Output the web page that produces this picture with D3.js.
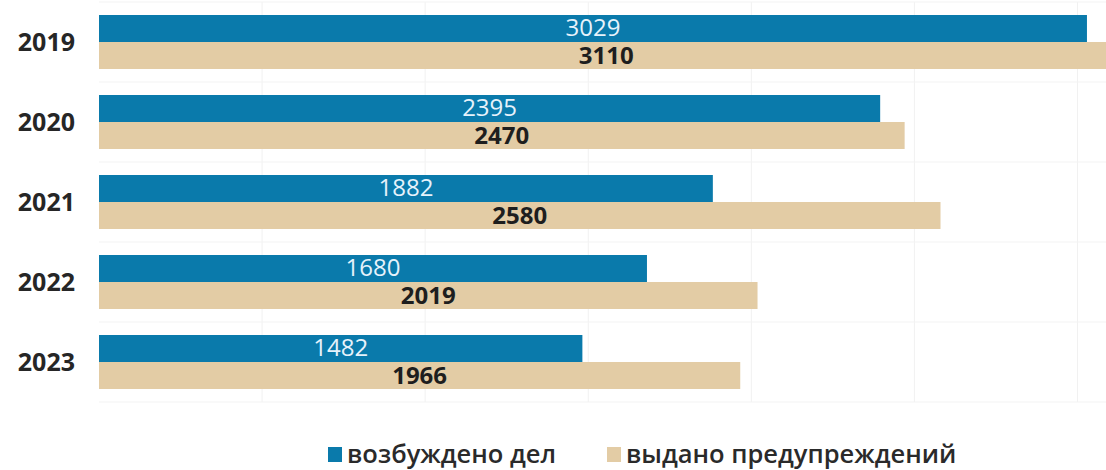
<!DOCTYPE html>
<html>
<head>
<meta charset="utf-8">
<script src="https://cdn.jsdelivr.net/npm/d3@7"></script>
<style>
html,body{margin:0;padding:0;background:#fff;}
svg{display:block;}
text{font-family:"Open Sans",sans-serif;}
</style>
</head>
<body>
<svg id="chart" width="1106" height="470"></svg>
<script>
const years = ["2019","2020","2021","2022","2023"];
const cases = [3029, 2395, 1882, 1680, 1482];
const warnings = [3110, 2470, 2580, 2019, 1966];
const seriesNames = ["возбуждено дел", "выдано предупреждений"];
const gridTicks = [0, 500, 1000, 1500, 2000, 2500, 3000];

const colors = {cases: "#0a7aab", warnings: "#e3cca5"};

const rows = years.map((y, i) => ({year: y, values: [cases[i], warnings[i]]}));

const svg = d3.select("#chart");
const x = d3.scaleLinear().domain([0, 3000]).range([99, 1077.5]);
const y = d3.scaleBand().domain(years).range([2, 402]).paddingInner(0.325).paddingOuter(0.1625);
const sub = d3.scaleBand().domain([0, 1]).range([0, y.bandwidth()]);

// faint grid
const grid = svg.append("g");
grid.selectAll("line.v").data(gridTicks.slice(1)).join("line")
  .attr("x1", d => x(d)).attr("x2", d => x(d))
  .attr("y1", 2).attr("y2", 402)
  .attr("stroke", "#f1f1f1").attr("stroke-width", 1);
const hLines = years.map(d => y(d) - y.step() * y.paddingInner() / 2).concat([402]);
grid.selectAll("line.h").data(hLines).join("line")
  .attr("x1", x(0)).attr("x2", 1106)
  .attr("y1", d => d).attr("y2", d => d)
  .attr("stroke", "#f3f3f3").attr("stroke-width", 1);

// bars
const groups = svg.append("g").selectAll("g").data(rows).join("g")
  .attr("transform", d => `translate(0,${y(d.year)})`);

groups.selectAll("rect").data(d => d.values.map((v, k) => ({v, k}))).join("rect")
  .attr("x", x(0))
  .attr("y", d => sub(d.k))
  .attr("width", d => x(d.v) - x(0))
  .attr("height", sub.bandwidth())
  .attr("fill", d => d.k === 0 ? colors.cases : colors.warnings);

groups.selectAll("text.val").data(d => d.values.map((v, k) => ({v, k}))).join("text")
  .attr("class", "val")
  .attr("x", d => (x(0) + x(d.v)) / 2)
  .attr("y", d => sub(d.k) + (d.k === 0 ? 21 : 22))
  .attr("text-anchor", "middle")
  .attr("font-size", 24)
  .attr("font-weight", d => d.k === 0 ? 400 : 700)
  .attr("fill", d => d.k === 0 ? "#e6f2fb" : "#1e1e1e")
  .text(d => d.v);

// year axis labels
svg.append("g").selectAll("text").data(years).join("text")
  .attr("x", 75)
  .attr("y", d => y(d) + y.bandwidth() / 2 + 9)
  .attr("text-anchor", "end")
  .attr("font-size", 25)
  .attr("font-weight", 700)
  .attr("fill", "#262626")
  .text(d => d);

// legend
const legend = svg.append("g");
const legendX = [328, 607];
const legendColors = [colors.cases, colors.warnings];
seriesNames.forEach((name, i) => {
  legend.append("rect").attr("x", legendX[i]).attr("y", 447)
    .attr("width", 14).attr("height", 15).attr("fill", legendColors[i]);
  legend.append("text").attr("x", legendX[i] + 19).attr("y", 463)
    .attr("font-size", 25.5).attr("font-weight", 600).attr("fill", "#2a2a2a")
    .text(name);
});
</script>
</body>
</html>
